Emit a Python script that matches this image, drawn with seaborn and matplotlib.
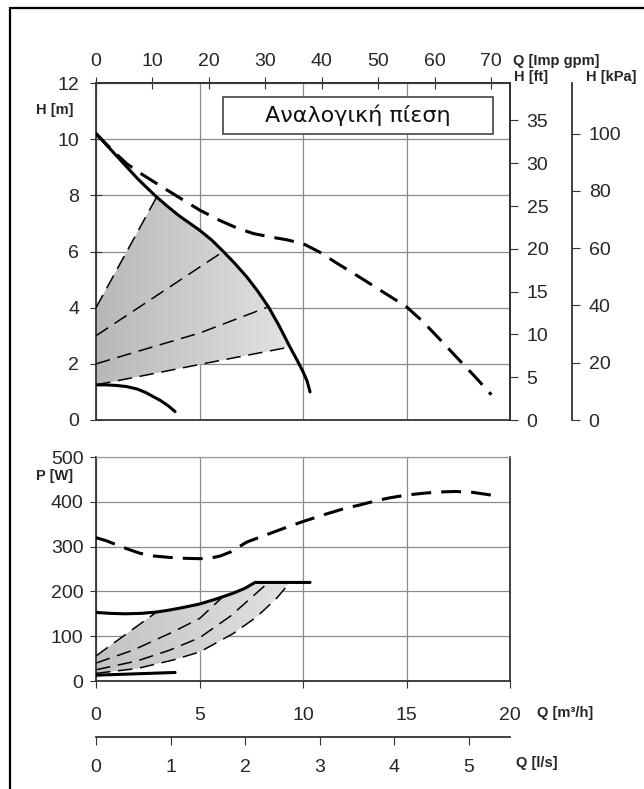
import numpy as np
import seaborn as sns
import matplotlib.pyplot as plt
from matplotlib.patches import Polygon, Rectangle
from matplotlib.colors import LinearSegmentedColormap

# ---- H(Q) curves, Q in m3/h, H in m ----
q_hmax = [0, 0.5, 1.0, 1.5, 2.0, 2.5, 2.93, 3.5, 4.0, 4.5, 5.02, 5.6, 6.15, 6.7, 7.28,
          7.8, 8.33, 8.85, 9.37, 9.7, 10.0, 10.2, 10.34]
h_hmax = [10.2, 9.8, 9.4, 9.0, 8.6, 8.24, 7.94, 7.58, 7.28, 7.02, 6.75, 6.4, 6.0, 5.58, 5.1,
          4.6, 4.03, 3.35, 2.6, 2.15, 1.72, 1.38, 1.0]

q_hdash = [0, 0.5, 1.0, 1.48, 2.2, 2.93, 4.0, 5.02, 6.0, 6.8, 7.6, 8.4, 9.2, 10.0, 10.8,
           11.6, 12.4, 13.2, 14.1, 15.0, 15.8, 16.6, 17.4, 18.3, 19.1]
h_hdash = [10.2, 9.82, 9.46, 9.13, 8.76, 8.42, 7.93, 7.47, 7.1, 6.84, 6.64, 6.52, 6.42, 6.28, 5.98,
           5.6, 5.24, 4.87, 4.45, 4.03, 3.5, 2.88, 2.25, 1.55, 0.9]

q_hmin = [0, 0.5, 1.0, 1.48, 2.0, 2.4, 2.77, 3.1, 3.5, 3.82]
h_hmin = [1.25, 1.25, 1.23, 1.19, 1.1, 0.98, 0.83, 0.7, 0.5, 0.3]

q_hp1, h_hp1 = [0, 2.93], [4.0, 7.94]
q_hp2, h_hp2 = [0, 6.15], [3.0, 6.0]
q_hp3, h_hp3 = [0, 2.5, 5.02, 8.33], [2.0, 2.55, 3.1, 4.03]
q_hp4, h_hp4 = [0, 2.29, 5.02, 9.37], [1.25, 1.58, 1.98, 2.6]

# ---- P(Q) curves, P in W ----
q_pdash = [0, 0.5, 1.0, 1.5, 2.13, 2.8, 3.5, 4.2, 5.02, 5.6, 6.0, 6.5, 7.0, 7.28, 7.8, 8.5,
           9.2, 10.0, 11.0, 12.0, 12.75, 13.5, 14.2, 15.0, 15.8, 16.6, 17.4, 18.2, 19.1]
p_pdash = [320, 313, 304, 295, 285, 279, 276, 274, 273, 275, 279, 288, 302, 310, 319, 331,
           343, 356, 371, 385, 393, 402, 409, 415, 419, 422, 423, 421, 415]

q_pmax = [0, 0.7, 1.4, 2.2, 2.93, 3.5, 4.2, 5.02, 5.8, 6.63, 7.2, 7.68, 9.37, 10.34]
p_pmax = [153, 151, 150, 151, 154, 158, 164, 172, 183, 196, 207, 220, 220, 220]

q_pmin, p_pmin = [0, 3.82], [13, 19]

q_pp1, p_pp1 = [0, 2.93], [56, 154]
q_pp2, p_pp2 = [0, 1.8, 3.74, 5.02, 6.15], [40, 69, 110, 140, 189]
q_pp3, p_pp3 = [0, 2.0, 3.57, 5.02, 6.5, 8.33], [25, 45, 69, 97, 145, 220]
q_pp4, p_pp4 = [0, 2.0, 3.74, 5.02, 6.63, 7.76, 8.73, 9.37], [17, 28, 47, 65, 106, 143, 185, 220]

h_ticks = list(range(0, 13, 2))
p_ticks = list(range(0, 501, 100))
q_ticks = list(range(0, 21, 5))
gpm_ticks = list(range(0, 71, 10))
ft_ticks = list(range(0, 36, 5))
kpa_ticks = list(range(0, 101, 20))
ls_ticks = list(range(0, 6))

GPM = 1000 / 4.54609 / 60
FT = 1 / 0.3048
KPA = 9.80665

sns.set_style("white")
plt.rcParams['font.family'] = ['Liberation Sans', 'DejaVu Sans']

W, H = 644, 789
fig = plt.figure(figsize=(W / 100, H / 100), dpi=100)


def box(l, t, r, b):
    return [l / W, 1 - b / H, (r - l) / W, (b - t) / H]


ax_h = fig.add_axes(box(96, 83, 510, 420))
ax_p = fig.add_axes(box(96, 457, 510, 681))

thick_dash = (0, (6.5, 3.3))
thin_dash = (0, (9.5, 5.0))
gray_h = LinearSegmentedColormap.from_list("gh", ["#b8b8b8", "#e2e2e2"])
gray_p = LinearSegmentedColormap.from_list("gp", ["#c2c2c2", "#e2e2e2"])


def line(ax, q, v, lw=2.2, ls='-'):
    sns.lineplot(x=q, y=v, ax=ax, color='black', lw=lw, linestyle=ls,
                 sort=False, estimator=None, legend=False, zorder=4)


def grad_fill(ax, xs, ys, xmax, ymax, cmap):
    poly = Polygon(np.column_stack([xs, ys]), closed=True,
                   facecolor='none', edgecolor='none')
    ax.add_patch(poly)
    im = ax.imshow(np.linspace(0, 1, 256).reshape(1, -1), extent=[0, xmax, 0, ymax],
                   aspect='auto', cmap=cmap, origin='lower', zorder=2)
    im.set_clip_path(poly)


# shaded operating areas between the lowest and highest proportional curves
i0, i1 = q_hmax.index(2.93), q_hmax.index(9.37)
fx = q_hp1 + q_hmax[i0 + 1:i1 + 1] + q_hp4[::-1][1:]
fy = h_hp1 + h_hmax[i0 + 1:i1 + 1] + h_hp4[::-1][1:]
grad_fill(ax_h, fx, fy, 9.5, 12, gray_h)

j0, j1 = q_pmax.index(2.93), q_pmax.index(9.37)
gx = q_pp1 + q_pmax[j0 + 1:j1 + 1] + q_pp4[::-1][1:]
gy = p_pp1 + p_pmax[j0 + 1:j1 + 1] + p_pp4[::-1][1:]
grad_fill(ax_p, gx, gy, 9.5, 500, gray_p)

line(ax_h, q_hmax, h_hmax)
line(ax_h, q_hmin, h_hmin)
line(ax_h, q_hdash, h_hdash, ls=thick_dash)
for q, h in [(q_hp1, h_hp1), (q_hp2, h_hp2), (q_hp3, h_hp3), (q_hp4, h_hp4)]:
    line(ax_h, q, h, lw=1.1, ls=thin_dash)

line(ax_p, q_pmax, p_pmax)
line(ax_p, q_pmin, p_pmin)
line(ax_p, q_pdash, p_pdash, ls=thick_dash)
for q, p in [(q_pp1, p_pp1), (q_pp2, p_pp2), (q_pp3, p_pp3), (q_pp4, p_pp4)]:
    line(ax_p, q, p, lw=1.1, ls=thin_dash)

dark = '#333333'
for ax in (ax_h, ax_p):
    ax.set_xlim(0, 20)
    ax.set_xticks(q_ticks)
    ax.grid(True, color='#8c8c8c', lw=0.9)
    ax.set_axisbelow(True)
    ax.set_xlabel('')
    ax.set_ylabel('')
    for sp in ax.spines.values():
        sp.set_color(dark)
        sp.set_linewidth(1.3)
        sp.set_visible(True)

ax_h.set_ylim(0, 12)
ax_h.set_yticks(h_ticks)
ax_h.tick_params(axis='x', length=0, labelbottom=False)
ax_h.tick_params(axis='y', direction='inout', length=8, pad=8, labelsize=14,
                 color=dark, left=True)

ax_p.set_ylim(0, 500)
ax_p.set_yticks(p_ticks)
ax_p.spines['top'].set_color('#999999')
ax_p.spines['top'].set_linewidth(0.9)
ax_p.tick_params(axis='x', direction='out', length=5, pad=14, labelsize=14,
                 color=dark, bottom=True)
ax_p.tick_params(axis='y', direction='out', length=4, pad=5, labelsize=14,
                 color=dark, left=True)

# secondary scales
ax_g = ax_h.secondary_xaxis('top', functions=(lambda q: q * GPM, lambda g: g / GPM))
ax_g.set_xticks(gpm_ticks)
ax_g.tick_params(direction='inout', length=8, pad=5, labelsize=14, color=dark)

ax_ft = ax_h.secondary_yaxis('right', functions=(lambda m: m * FT, lambda f: f / FT))
ax_ft.set_yticks(ft_ticks)
ax_ft.tick_params(direction='out', length=6, pad=6, labelsize=14, color=dark)

ax_kpa = ax_h.secondary_yaxis(476 / 414, functions=(lambda m: m * KPA, lambda k: k / KPA))
ax_kpa.set_yticks(kpa_ticks)
ax_kpa.tick_params(direction='out', length=6, pad=6, labelsize=14, color=dark)

ax_ls = ax_p.secondary_xaxis(-56 / 224, functions=(lambda q: q / 3.6, lambda l: l * 3.6))
ax_ls.set_xticks(ls_ticks)
ax_ls.tick_params(direction='out', length=6, pad=10, labelsize=14, color=dark)

for sec in (ax_g, ax_ft, ax_kpa, ax_ls):
    for sp in sec.spines.values():
        sp.set_color(dark)
        sp.set_linewidth(1.3)

# mode label box
ax_h.add_patch(Rectangle((127 / 414, 286 / 337), 270 / 414, 37 / 337, transform=ax_h.transAxes,
                         facecolor='white', edgecolor='#444444', lw=1.2, zorder=5))
ax_h.text(262 / 414, 304.5 / 337, 'Αναλογική πίεση', transform=ax_h.transAxes,
          ha='center', va='center', fontsize=16, family='DejaVu Sans', color='#111111', zorder=6)

# unit labels
lab = dict(fontsize=10.5, fontweight='bold', va='center', ha='left')
fig.text(513 / W, 1 - 61 / H, 'Q [Imp gpm]', **lab)
fig.text(514 / W, 1 - 77 / H, 'H [ft]', **lab)
fig.text(586 / W, 1 - 77 / H, 'H [kPa]', **lab)
fig.text(36 / W, 1 - 110 / H, 'H [m]', **lab)
fig.text(36 / W, 1 - 476 / H, 'P [W]', **lab)
fig.text(537 / W, 1 - 713 / H, 'Q [m³/h]', **lab)
fig.text(516 / W, 1 - 763 / H, 'Q [l/s]', **lab)

# outer frame (right and bottom edges fall outside the picture)
fig.add_artist(Rectangle((10 / W, -0.2), 1.3, 1.2 - 8 / H, transform=fig.transFigure,
                         fill=False, edgecolor='black', lw=1.6, clip_on=False))

fig.savefig('out.png', dpi=100)
